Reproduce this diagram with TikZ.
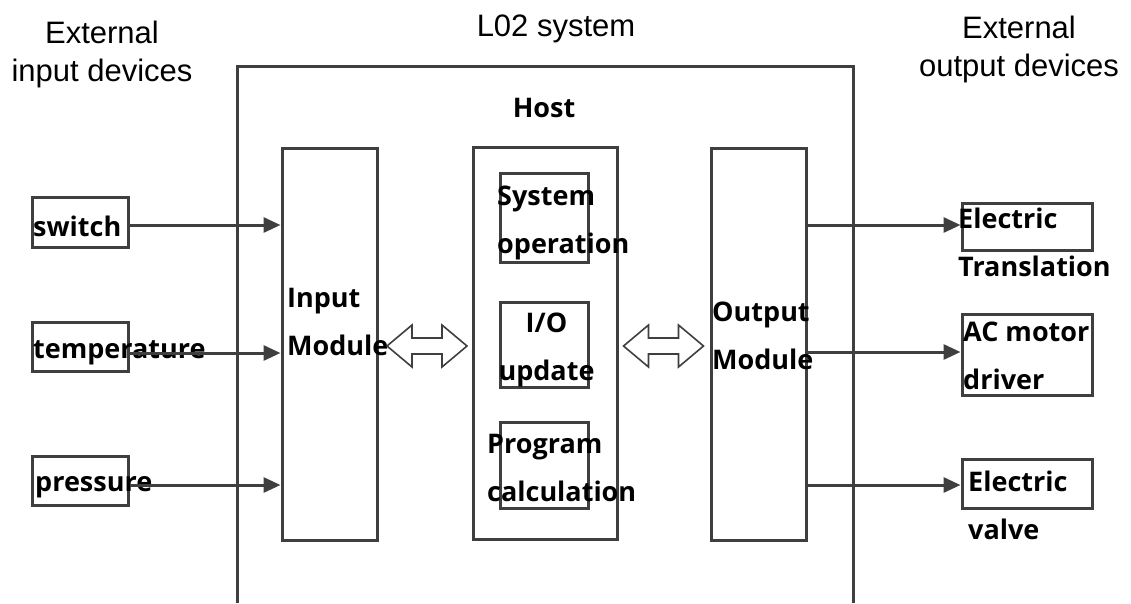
\documentclass[tikz,border=0pt]{standalone}
\usepackage{fontspec}
\setmainfont{Liberation Sans}
\newfontfamily\lblfont{Open Sans}
\usetikzlibrary{arrows.meta}
\definecolor{linegray}{HTML}{3F3F3F}

\begin{document}
\begin{tikzpicture}
  [x=1pt, y=-1pt,
   head/.style={font=\fontsize{31}{38}\selectfont, align=center, inner sep=0pt},
   lbl/.style={font=\lblfont\bfseries\fontsize{27}{48}\selectfont, align=left, inner sep=0pt},
   box/.style={draw=linegray, line width=3pt, inner sep=0pt},
   column/.style={box, minimum width=95pt, minimum height=392pt},
   inbox/.style={box, minimum width=88pt},
   devbox/.style={box, minimum width=96pt, minimum height=49pt},
   outbox/.style={box, minimum width=130pt},
   link/.style={draw=linegray, line width=3pt, -{Triangle[length=17pt,width=15pt]}},
   swapline/.style={draw=linegray, line width=1.6pt, line join=miter}]
  \useasboundingbox (0,0) rectangle (1131,603);

  % titles
  \node[head] (intitle) at (102,54.5) {External\\input devices};
  \node[head] (systitle) at (556,29) {L02 system};
  \node[head] (outtitle) at (1019,49) {External\\output devices};

  % host frame, open at the bottom
  \draw[box] (237,603) |- (853,66) -- (853,603);
  \node[lbl] (host) at (544,108) {Host};

  % modules
  \node[column] (im) at (329.5,344) {};
  \node[column, minimum width=144pt] (hm) at (545,343.5) {};
  \node[column] (om) at (759,344) {};
  \node[lbl, anchor=west] (imt) at (287,322) {Input\\Module};
  \node[lbl, anchor=west] (omt) at (712,335.5) {Output\\Module};

  \node[inbox, minimum height=89pt] (so) at (544,217.5) {};
  \node[inbox, minimum height=85pt] (io) at (544,344.5) {};
  \node[inbox, minimum height=86pt] (pc) at (544,465) {};
  \node[lbl, anchor=west] (sot) at (497,223) {System\\operation};
  \node[lbl, align=center] (iot) at (546.5,350) {I/O\\update};
  \node[lbl, anchor=west] (pct) at (487,468) {Program\\calculation};

  % hollow double arrows between the modules
  \coordinate (lswap) at (427,346);
  \coordinate (rswap) at (663.5,346);
  \foreach \c in {lswap,rswap}
    \draw[swapline] ([xshift=-40pt]\c) -- ++(25,-21) -- ++(0,13) -- ++(30,0) -- ++(0,-13)
      -- ++(25,21) -- ++(-25,21) -- ++(0,-13) -- ++(-30,0) -- ++(0,13) -- cycle;

  % input devices
  \node[devbox, minimum height=50pt] (sw) at (80,222) {};
  \node[devbox] (tp) at (80,346.5) {};
  \node[devbox] (pr) at (80,480.5) {};
  \node[lbl, anchor=west] (swt) at (33,226) {switch};
  \node[lbl, anchor=west] (tpt) at (33,353) {temperature};
  \node[lbl, anchor=west] (prt) at (35,487) {pressure};

  \draw[link] (sw.east |- 0,225) -- (im.west |- 0,225);
  \draw[link] (tp.east |- tpt) -- (im.west |- tpt);
  \draw[link] (pr.east |- 0,485) -- (im.west |- 0,485);

  % output devices
  \node[outbox, minimum height=47pt] (et) at (1027,226.5) {};
  \node[outbox, minimum height=81pt] (ac) at (1027,354.5) {};
  \node[outbox, minimum height=49pt] (ev) at (1027,483.5) {};
  \node[lbl, anchor=west] (ett) at (958,242.5) {Electric\\Translation};
  \node[lbl, anchor=west] (act) at (963,356) {AC motor\\driver};
  \node[lbl, anchor=west] (evt) at (968,505.5) {Electric\\valve};

  \draw[link] (om.east |- 0,225) -- (et.west |- 0,225);
  \draw[link] (om.east |- 0,352) -- (ac.west |- 0,352);
  \draw[link] (om.east |- 0,485) -- (ev.west |- 0,485);
\end{tikzpicture}
\end{document}
